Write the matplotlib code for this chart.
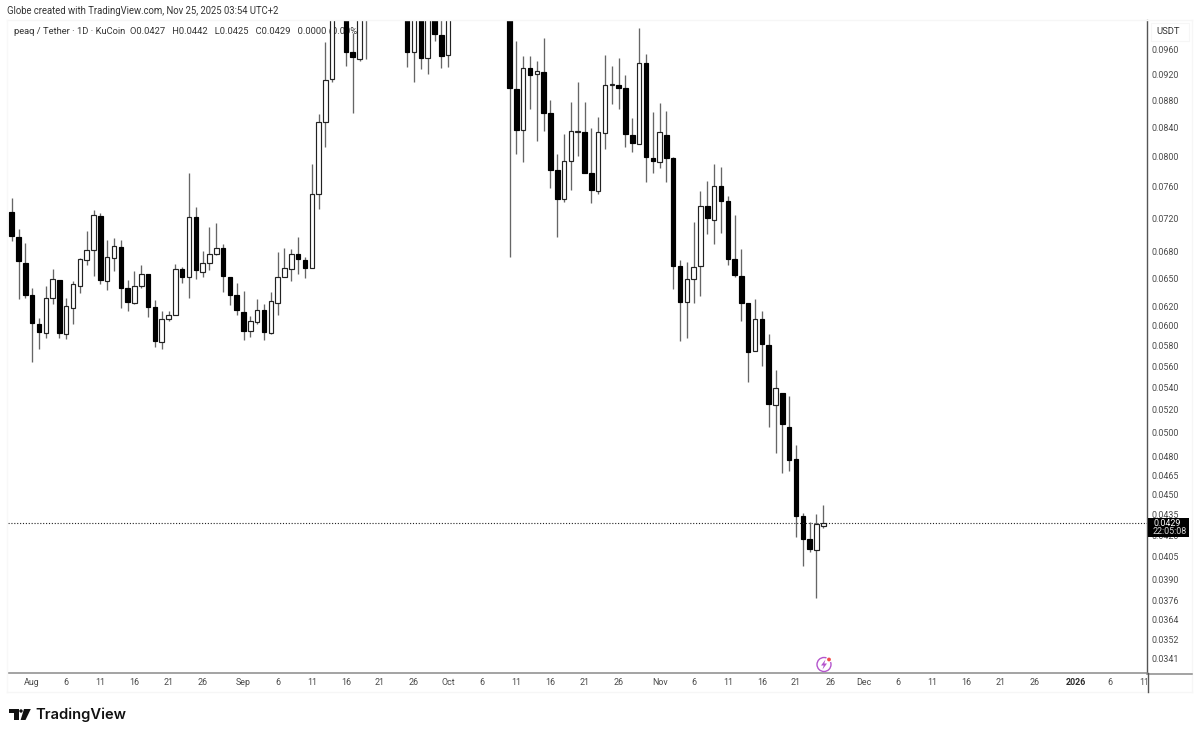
import numpy as np
import pandas as pd
import matplotlib
matplotlib.use('Agg')
import matplotlib.pyplot as plt
import matplotlib.dates as mdates
from matplotlib.patches import Rectangle, Circle, Polygon
from matplotlib.lines import Line2D
from matplotlib.transforms import Affine2D, Bbox, TransformedBbox

n = np.nan

# daily candles from Jul 29 2025, prices in 1/100000 USDT, nan = above the visible range
opens = [7281,6978,6676,6320,6013,5921,6291,6483,5911,6179,6420,6707,6822,7228,6472,
         6733,6860,6392,6231,6420,6549,6192,5838,6070,6112,6602,6519,7212,6575,6670,
         6779,6842,6513,6323,6143,5948,6039,6161,5921,6238,6513,6602,6779,6707,6620,
         7503,8484,9118,n,10345,9556,9443,10258,n,n,n,n,n,10345,9546,
         10345,9449,10345,9826,9498,n,n,n,n,n,n,n,n,10345,8969,
         8361,9290,9196,9237,8611,7812,7440,7932,8337,8333,7772,7545,8319,9035,9035,
         8980,8299,8169,9370,7981,7927,8299,7981,6642,6242,6491,6636,7348,7179,7610,
         7411,6722,6530,6231,5743,6064,5802,5245,5353,5052,4780,4343,4175,4095,4270]
highs = [7449,7066,6900,6392,6074,6420,6602,6483,6291,6472,6733,7050,7302,7261,6939,
         6959,6939,6483,6583,6650,6549,6266,6153,6153,6658,6631,7780,7343,6810,7090,
         7139,6892,6513,6453,6363,6098,6274,6224,6355,6802,6842,6830,6971,6738,7892,
         8592,9710,10523,n,10523,9865,10523,10703,n,n,n,n,n,10523,10523,
         10523,10523,10523,10523,10523,n,n,n,n,n,n,n,n,10523,9736,
         9491,9491,9411,9776,8803,8027,8309,8769,9072,8778,8398,8557,9503,9327,9449,
         9190,8533,9944,9519,8630,8758,8644,7994,6707,6681,7158,7545,7675,7892,7852,
         7478,7240,6834,6231,6274,6153,5914,5563,5353,5326,4895,4361,4299,4353,4420]
lows = [6931,6274,6284,5642,5763,5871,6224,5871,5864,6016,6345,6650,6530,6439,6374,
        6583,6179,6153,6224,6392,6091,5782,5763,6050,6112,6453,6291,6494,6513,6594,
        6761,6355,6213,6109,5854,5887,6013,5854,5914,6109,6513,6475,6549,6508,6620,
        7314,8123,9072,n,9327,8606,9406,9443,n,n,n,n,n,9306,9076,
        9274,9201,9736,9295,9316,n,n,n,n,n,n,n,n,6745,8027,
        7919,8674,8215,8355,7584,6978,7402,7554,8008,7772,7393,7503,8104,8743,8674,
        8131,8054,8169,7654,7772,7846,7654,6381,5845,5871,6231,6312,7007,6888,7018,
        6654,6519,6047,5454,5743,5604,5047,4829,4668,4686,4187,3987,4085,3778,4250]
closes = [6990,6696,6320,6023,5938,6291,6491,5921,6200,6442,6722,6819,7240,6483,6738,
          6869,6392,6242,6420,6549,6192,5842,6070,6112,6602,6519,7219,6594,6670,6779,
          6842,6524,6320,6161,5942,6043,6158,5932,6252,6513,6613,6779,6722,6620,7499,
          8484,9103,10345,n,9556,9466,10345,10523,n,n,n,n,n,9556,10345,
          9459,10345,9843,9491,10345,n,n,n,n,n,n,n,n,8980,8365,
          9290,9190,9243,8611,7820,7440,7932,8351,8347,7772,7554,8333,9035,9041,8984,
          8309,8178,9374,7994,7932,8341,7981,6642,6245,6491,6631,7348,7203,7610,7411,
          6722,6542,6231,5733,6064,5812,5254,5393,5073,4772,4343,4175,4102,4282,4290]

price_ticks = [0.0960,0.0920,0.0880,0.0840,0.0800,0.0760,0.0720,0.0680,0.0650,0.0620,0.0600,0.0580,0.0560,
               0.0540,0.0520,0.0500,0.0480,0.0465,0.0450,0.0435,0.0420,0.0405,0.0390,0.0376,0.0364,0.0352,0.0341]
date_ticks = ['2025-08-01','2025-08-06','2025-08-11','2025-08-16','2025-08-21','2025-08-26',
              '2025-09-01','2025-09-06','2025-09-11','2025-09-16','2025-09-21','2025-09-26',
              '2025-10-01','2025-10-06','2025-10-11','2025-10-16','2025-10-21','2025-10-26',
              '2025-11-01','2025-11-06','2025-11-11','2025-11-16','2025-11-21','2025-11-26',
              '2025-12-01','2025-12-06','2025-12-11','2025-12-16','2025-12-21','2025-12-26',
              '2026-01-01','2026-01-06','2026-01-11']
date_labels = ['Aug','6','11','16','21','26','Sep','6','11','16','21','26','Oct','6','11','16','21','26',
               'Nov','6','11','16','21','26','Dec','6','11','16','21','26','2026','6','11']
last_price = 0.0429

days = pd.date_range('2025-07-29', periods=120)
x = mdates.date2num(days)
o = np.array(opens, dtype=float) / 100000
h = np.array(highs, dtype=float) / 100000
l = np.array(lows, dtype=float) / 100000
c = np.array(closes, dtype=float) / 100000

W, H = 1200, 737
TICK_FONT = 'Roboto'
fig = plt.figure(figsize=(W / 100, H / 100), dpi=100, facecolor='white')
ax = fig.add_axes([8 / W, 1 - 673 / H, (1147 - 8) / W, (673 - 20) / H])
px = Affine2D().scale(1, -1).translate(0, H)

# wicks then bodies
ax.vlines(x, l, h, color='#666666', lw=0.95, zorder=2)
up = c >= o
ax.bar(x[up], (c - o)[up], bottom=o[up], width=0.66, facecolor='white', edgecolor='#222222', lw=0.85, zorder=3)
ax.bar(x[~up], (o - c)[~up], bottom=c[~up], width=0.66, facecolor='black', edgecolor='black', lw=0.85, zorder=3)
ax.axhline(last_price, color='#222222', lw=0.8, ls=(0, (1, 1.6)), zorder=4)

ax.set_yscale('log')
ax.set_ylim(0.033244, 0.10085)
ax.set_xlim(x[0] - 0.54, x[0] + 166.47)
ax.yaxis.tick_right()
ax.yaxis.set_minor_locator(matplotlib.ticker.NullLocator())
ax.yaxis.set_minor_formatter(matplotlib.ticker.NullFormatter())
ax.set_yticks(price_ticks)
ax.set_yticklabels(['%.4f' % v for v in price_ticks], fontsize=6.4, family=TICK_FONT, color='#4a4a4a')
ax.tick_params(axis='y', length=0, pad=3.5)
ax.set_xticks(mdates.date2num(pd.to_datetime(date_ticks)))
ax.set_xticklabels(date_labels, fontsize=6.4, family=TICK_FONT, color='#4a4a4a')
ax.tick_params(axis='x', length=0, pad=3.5)
for lab in ax.get_xticklabels():
    if lab.get_text() == '2026':
        lab.set_fontweight('bold')
        lab.set_color('#2a2a2a')
last_lab = ax.get_xticklabels()[-1]
last_lab.set_clip_box(TransformedBbox(Bbox([[0, 0], [1147 / W, 1]]), fig.transFigure))
last_lab.set_clip_on(True)
for side in ['top', 'left']:
    ax.spines[side].set_visible(False)
ax.spines['right'].set_color('#555555')
ax.spines['right'].set_linewidth(1.0)
ax.spines['bottom'].set_color('#8a8a8a')
ax.spines['bottom'].set_linewidth(1.1)

# frame around the chart
fig.add_artist(Line2D([7, 1192], [20, 20], color='#f6f6f6', lw=1, transform=px))
fig.add_artist(Line2D([7, 7], [20, 692], color='#f8f8f8', lw=1, transform=px))
fig.add_artist(Line2D([1192, 1192], [20, 692], color='#f6f6f6', lw=1, transform=px))
fig.add_artist(Line2D([7, 1192], [692, 692], color='#f6f6f6', lw=1, transform=px))
fig.add_artist(Line2D([1147, 1192], [673.5, 673.5], color='#8a8a8a', lw=1.1, transform=px))
fig.add_artist(Line2D([1147.5, 1147.5], [673, 692], color='#555555', lw=1.0, transform=px))

# header and legend line
fig.text(7 / W, 1 - 11.5 / H, 'Globe created with TradingView.com, Nov 25, 2025 03:54 UTC+2',
         fontsize=6.85, family='Roboto', color='#333333', va='center')
ax.text(13.5 / W, 1 - 31.5 / H, 'peaq / Tether · 1D · KuCoin  O0.0427   H0.0442   L0.0425   C0.0429   0.0000 (0.00%)',
        fontsize=6.75, family='Roboto', color='#333333', va='center', transform=fig.transFigure, zorder=1, clip_on=False)

# currency button
fig.add_artist(Rectangle((1151, 23), 38, 18, facecolor='white', edgecolor='#f6f6f6', lw=0.8, transform=px))
fig.text(1168.5 / W, 1 - 32 / H, 'USDT', fontsize=6.8, family='Roboto', color='#333333', ha='center', va='center')

# last price tag
fig.add_artist(Rectangle((1147.5, 518), 41.5, 19, facecolor='black', edgecolor='none', transform=px))
fig.text(1153 / W, 1 - 523.5 / H, '0.0429', fontsize=6.4, family=TICK_FONT, color='white', va='center')
fig.text(1153 / W, 1 - 532 / H, '22:05:08', fontsize=6.4, family=TICK_FONT, color='#d8d8d8', va='center')

# lightning badge
fig.add_artist(Circle((824, 664.5), 7, facecolor='white', edgecolor='#b455cc', lw=1.0, transform=px))
fig.add_artist(Polygon([(825.5, 659.5), (821, 665.5), (823.7, 665.5), (822.5, 669.5), (827, 663.5), (824.3, 663.5)],
                       closed=True, facecolor='#b455cc', edgecolor='none', transform=px))
fig.add_artist(Circle((829, 659.5), 3, facecolor='white', edgecolor='none', transform=px))
fig.add_artist(Circle((829, 659.5), 1.9, facecolor='#f24a4a', edgecolor='none', transform=px))

# TradingView logo
logo = [[(9.3, 709), (18.7, 709), (18.7, 720), (14, 720), (14, 712.5), (9.3, 712.5)],
        [(24, 709), (30.8, 709), (25.5, 720), (20.6, 720)]]
for pts in logo:
    fig.add_artist(Polygon(pts, closed=True, facecolor='#111111', edgecolor='none', transform=px))
fig.add_artist(Circle((21, 711), 1.7, facecolor='#111111', edgecolor='none', transform=px))
fig.text(35 / W, 1 - 714.5 / H, 'TradingView', fontsize=10.6, family='Inter', weight='semibold', color='#111111', va='center')

fig.savefig('out.png', dpi=100)
